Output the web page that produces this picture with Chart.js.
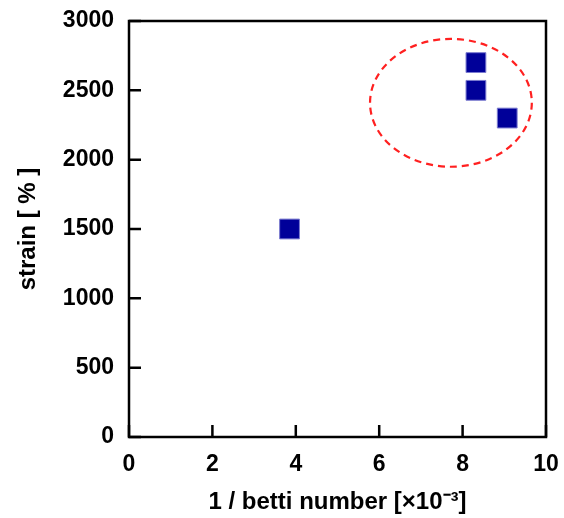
<!DOCTYPE html>
<html lang="en">
<head>
  <meta charset="UTF-8">
  <title>strain vs 1 / betti number</title>
  <script src="https://cdn.jsdelivr.net/npm/chart.js"></script>
  <style>
    body { margin: 0; background: #ffffff; }
    #chart-container { width: 564px; height: 518px; }
  </style>
</head>
<body>
<div id="chart-container">
  <canvas id="strainChart"></canvas>
</div>
<script>
  // data
  const invBetti = [3.85, 8.32, 8.32, 9.07];
  const strain = [1500, 2700, 2500, 2300];
  const xTicks = [0, 2, 4, 6, 8, 10];
  const yTicks = [0, 500, 1000, 1500, 2000, 2500, 3000];
  // dashed circle round the high-strain group: centre x, centre y, radius x, radius y
  const groupEllipse = [7.72, 2410, 1.94, 461];

  const fontFamily = '"Liberation Sans", Arial, sans-serif';

  // frame + inward ticks
  const framePlugin = {
    id: 'framePlugin',
    afterDraw: (chart) => {
      const ctx = chart.ctx;
      const a = chart.chartArea;
      const xs = chart.scales.x, ys = chart.scales.y;
      ctx.save();
      ctx.strokeStyle = '#000';
      ctx.lineWidth = 2.5;
      ctx.beginPath();
      xTicks.forEach(v => {
        const x = xs.getPixelForValue(v);
        ctx.moveTo(x, a.bottom);
        ctx.lineTo(x, a.bottom - 12);
      });
      yTicks.forEach(v => {
        const y = ys.getPixelForValue(v);
        ctx.moveTo(a.left, y);
        ctx.lineTo(a.left + 12, y);
      });
      ctx.stroke();
      ctx.strokeRect(a.left, a.top, a.right - a.left, a.bottom - a.top);
      ctx.restore();
    }
  };

  const ellipsePlugin = {
    id: 'ellipsePlugin',
    beforeDatasetsDraw: (chart) => {
      const ctx = chart.ctx;
      const xs = chart.scales.x, ys = chart.scales.y;
      const cx = xs.getPixelForValue(groupEllipse[0]);
      const cy = ys.getPixelForValue(groupEllipse[1]);
      const rx = Math.abs(xs.getPixelForValue(groupEllipse[0] + groupEllipse[2]) - cx);
      const ry = Math.abs(ys.getPixelForValue(groupEllipse[1] + groupEllipse[3]) - cy);
      ctx.save();
      ctx.strokeStyle = '#ff2020';
      ctx.lineWidth = 2.2;
      ctx.setLineDash([7, 5]);
      ctx.beginPath();
      ctx.ellipse(cx, cy, rx, ry, 0, 0, Math.PI * 2);
      ctx.stroke();
      ctx.restore();
    }
  };

  const ctx = document.getElementById('strainChart').getContext('2d');
  new Chart(ctx, {
    type: 'scatter',
    data: {
      datasets: [{
        data: invBetti.map((x, i) => ({ x: x, y: strain[i] })),
        pointStyle: 'rect',
        pointRadius: 14,
        pointHoverRadius: 14,
        backgroundColor: '#000099',
        borderColor: '#7b7bd0',
        borderWidth: 1
      }]
    },
    options: {
      responsive: true,
      maintainAspectRatio: false,
      animation: false,
      layout: { padding: { top: 21, right: 18, left: 0, bottom: 0 } },
      plugins: {
        legend: { display: false },
        tooltip: { enabled: false }
      },
      scales: {
        x: {
          type: 'linear',
          min: 0,
          max: 10,
          afterBuildTicks: (scale) => { scale.ticks = xTicks.map(v => ({ value: v })); },
          afterFit: (scale) => { scale.height = 81; scale.paddingLeft = 0; scale.paddingRight = 0; },
          grid: { display: false, drawTicks: false },
          border: { display: false },
          ticks: {
            color: '#000', padding: 14,
            callback: (v) => String(v),
            font: { family: fontFamily, size: 23, weight: 'bold' }
          },
          title: {
            display: true,
            text: '1 / betti number [×10⁻³]',
            color: '#000',
            padding: { top: 0, bottom: 1 },
            font: { family: fontFamily, size: 24, weight: 'bold' }
          }
        },
        y: {
          type: 'linear',
          min: 0,
          max: 3000,
          afterBuildTicks: (scale) => { scale.ticks = yTicks.map(v => ({ value: v })); },
          afterFit: (scale) => { scale.width = 129; scale.paddingTop = 0; scale.paddingBottom = 0; },
          grid: { display: false, drawTicks: false },
          border: { display: false },
          ticks: {
            color: '#000', padding: 15,
            callback: (v) => String(v),
            font: { family: fontFamily, size: 23, weight: 'bold' }
          },
          title: {
            display: true,
            text: 'strain [ % ]',
            color: '#000',
            padding: { top: 14, bottom: 0 },
            font: { family: fontFamily, size: 24, weight: 'bold' }
          }
        }
      }
    },
    plugins: [ellipsePlugin, framePlugin]
  });
</script>
</body>
</html>
